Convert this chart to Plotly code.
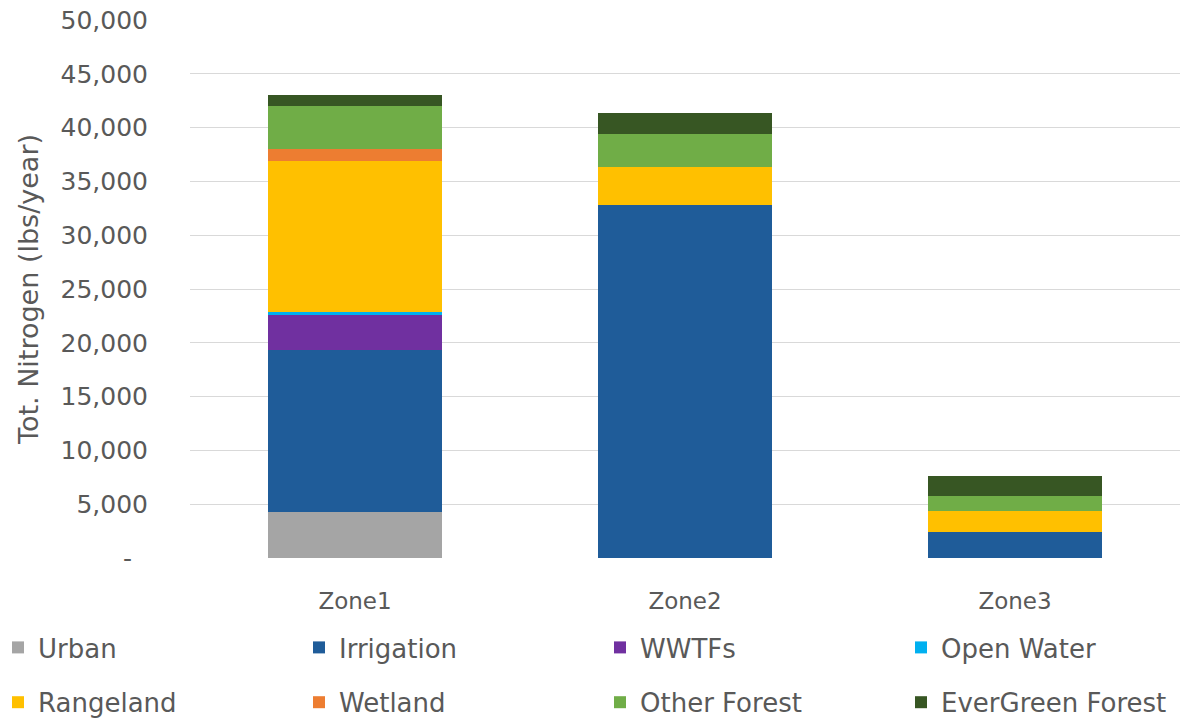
import plotly.graph_objects as go

zones = ["Zone1", "Zone2", "Zone3"]
series_names = ["Urban", "Irrigation", "WWTFs", "Open Water",
                "Rangeland", "Wetland", "Other Forest", "EverGreen Forest"]
urban = [4300, 0, 0]
irrigation = [15000, 32800, 2400]
wwtfs = [3300, 0, 0]
open_water = [300, 0, 0]
rangeland = [14000, 3500, 2000]
wetland = [1100, 0, 0]
other_forest = [4000, 3100, 1400]
evergreen = [1000, 2000, 1800]
tick_vals = [0, 5000, 10000, 15000, 20000, 25000, 30000, 35000, 40000, 45000, 50000]
tick_text = ["-\u00a0\u00a0", "5,000", "10,000", "15,000", "20,000", "25,000",
             "30,000", "35,000", "40,000", "45,000", "50,000"]

values = [urban, irrigation, wwtfs, open_water, rangeland, wetland, other_forest, evergreen]
colors = ["#A5A5A5", "#1F5C99", "#7030A0", "#00B0F0",
          "#FFC000", "#ED7D31", "#70AD47", "#375623"]

FONT = "DejaVu Sans"
TXT = "#595959"

W, H = 1191, 721
ML, MR, MT, MB = 190, 11, 20, 163
PW = W - ML - MR
PH = H - MT - MB

legend_ids = ["legend", "legend2", "legend3", "legend4"]

fig = go.Figure()
for i, (name, vals, col) in enumerate(zip(series_names, values, colors)):
    fig.add_trace(go.Bar(
        x=zones, y=vals, name=name, marker=dict(color=col, line=dict(width=0)),
        legend=legend_ids[i % 4], legendgroup=name,
    ))

# legend column left edges (px)
col_px = [-2, 299, 600, 901]
legend_top_px = 624
legend_common = dict(
    orientation="v", xanchor="left", yanchor="top",
    xref="paper", yref="paper", y=(MT + PH - legend_top_px) / PH,
    font=dict(family=FONT, size=26, color=TXT),
    bgcolor="rgba(0,0,0,0)", traceorder="grouped", tracegroupgap=18,
)

fig.update_layout(
    barmode="stack",
    bargap=0.47,
    width=W, height=H,
    margin=dict(l=ML, r=MR, t=MT, b=MB, autoexpand=False),
    plot_bgcolor="white", paper_bgcolor="white",
    font=dict(family=FONT, color=TXT),
    legend=dict(x=(col_px[0] - ML) / PW, **legend_common),
    legend2=dict(x=(col_px[1] - ML) / PW, **legend_common),
    legend3=dict(x=(col_px[2] - ML) / PW, **legend_common),
    legend4=dict(x=(col_px[3] - ML) / PW, **legend_common),
    yaxis=dict(
        range=[0, 50000], tickvals=tick_vals, ticktext=tick_text,
        showgrid=True, gridcolor="#D9D9D9", gridwidth=1,
        zeroline=False, showline=False,
        tickfont=dict(family=FONT, size=25, color=TXT),
        title=dict(text="Tot. Nitrogen (lbs/year)", font=dict(family=FONT, size=27, color=TXT), standoff=14),
        ticks="outside", ticklen=36, tickcolor="rgba(0,0,0,0)",
        ticklabeloverflow="allow",
    ),
    xaxis=dict(
        showgrid=False, showline=False,
        ticks="outside", ticklen=22, tickcolor="rgba(0,0,0,0)",
        tickfont=dict(family=FONT, size=23, color=TXT),
    ),
)

fig.write_html(
    "out.html",
    config={"displayModeBar": False},
    post_script="document.body.style.margin='0';document.body.style.overflow='hidden';",
)
